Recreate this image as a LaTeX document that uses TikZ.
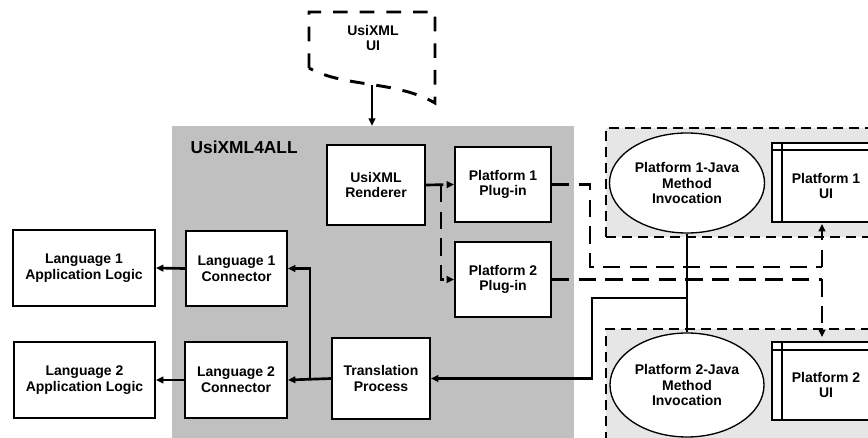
\documentclass[tikz,border=0pt]{standalone}
\usepackage{fontspec}
\setmainfont{Liberation Sans}
\usetikzlibrary{arrows.meta,shapes.geometric}
\definecolor{coregray}{HTML}{C0C0C0}
\definecolor{platgray}{HTML}{E6E6E6}
\tikzset{
  lbl/.style={font=\fontsize{10.5}{11.8}\selectfont\bfseries, align=center},
  blk/.style={lbl, draw, fill=white, line width=1.5pt, inner sep=0pt},
  oval/.style={lbl, draw, fill=white, ellipse, line width=1pt, inner sep=0pt},
  flow/.style={line width=2pt, -{Triangle[length=5.5pt,width=5pt]}},
  link/.style={line width=2pt},
  dflow/.style={line width=2pt, dash pattern=on 13pt off 7pt, -{Triangle[length=5.5pt,width=5pt]}},
  dlink/.style={line width=2pt, dash pattern=on 13pt off 7pt},
  region/.style={draw, fill=platgray, line width=1.2pt, dash pattern=on 7.5pt off 4.5pt},
}
\begin{document}
\begin{tikzpicture}[x=0.75pt,y=-0.75pt]
\useasboundingbox (0,0) rectangle (868,438);
\clip (0,0) rectangle (868,438);

% UsiXML4ALL framework area
\node[fill=coregray, minimum width=402*0.75pt, minimum height=319*0.75pt, inner sep=0pt] (core) at (373,285.5) {};
\node[anchor=west, font=\fontsize{13}{15}\selectfont\bfseries] (corelbl) at (186,147) {UsiXML4ALL};

% platform areas
\node[region, minimum width=280*0.75pt, minimum height=109*0.75pt, inner sep=0pt] (reg1) at (746,182.5) {};
\node[region, minimum width=280*0.75pt, minimum height=121*0.75pt, inner sep=0pt] (reg2) at (746,389.5) {};

% UsiXML UI document
\draw[line width=2.2pt, dash pattern=on 11pt off 9pt]
  (309,68) -- (309,12) -- (435,12) -- (435,103) .. controls (395,80) and (345,88) .. (309,68);
\node[lbl] (doc) at (373,38) {UsiXML\\UI};
\coordinate (docb) at (372,85);

% blocks
\node[blk, minimum width=98*0.75pt, minimum height=80*0.75pt] (rend) at (376,185) {UsiXML\\Renderer};
\node[blk, minimum width=96*0.75pt, minimum height=75*0.75pt] (p1plug) at (503,184.5) {Platform 1\\Plug-in};
\node[blk, minimum width=96*0.75pt, minimum height=75*0.75pt] (p2plug) at (503,279.5) {Platform 2\\Plug-in};
\node[blk, minimum width=101*0.75pt, minimum height=75*0.75pt] (l1con) at (236.5,268.5) {Language 1\\Connector};
\node[blk, minimum width=102*0.75pt, minimum height=76*0.75pt] (l2con) at (236,380) {Language 2\\Connector};
\node[blk, minimum width=98*0.75pt, minimum height=81*0.75pt] (trans) at (381,378.5) {Translation\\Process};
\node[blk, minimum width=142*0.75pt, minimum height=76*0.75pt] (l1app) at (84,268) {Language 1\\Application Logic};
\node[blk, minimum width=141*0.75pt, minimum height=76*0.75pt] (l2app) at (84.5,380) {Language 2\\Application Logic};

% platform method invocation
\node[oval, minimum width=155*0.75pt, minimum height=100*0.75pt] (ell1) at (687,183) {Platform 1-Java\\Method\\Invocation};
\node[oval, minimum width=154*0.75pt, minimum height=104*0.75pt] (ell2) at (687,385) {Platform 2-Java\\Method\\Invocation};

% platform user interfaces (window frames)
\draw[line width=1.5pt, fill=white] (890,143) -- (772,143) -- (772,222) -- (890,222);
\draw[line width=1pt] (772,150) -- (890,150) (782,143) -- (782,222);
\node[lbl] (ui1) at (826,186) {Platform 1\\UI};
\draw[line width=1.5pt, fill=white] (890,342) -- (772,342) -- (772,420) -- (890,420);
\draw[line width=1pt] (772,350) -- (890,350) (782,342) -- (782,420);
\node[lbl] (ui2) at (826,385) {Platform 2\\UI};

% connectors
\draw[flow] (docb) -- (docb |- core.north);

\draw[dflow] (rend.east) -- (p1plug.west);
\coordinate (rsplit) at (441,185);
\draw[dflow] (rsplit) |- (p2plug.west);

\coordinate (a1) at (590,184.5);
\coordinate (a2) at (590,267);
\coordinate (a3) at (822,267);
\coordinate (ui1b) at (822,224);
\draw[dlink] (p1plug.east) -- (a1) -- (a2) -- (a3);
\draw[dflow] (a3) -- (ui1b);

\coordinate (b1) at (822,279.5);
\coordinate (ui2t) at (822,337);
\draw[dlink] (p2plug.east) -- (b1);
\draw[dflow] (b1) -- (ui2t);

\draw[link] (ell1.south) -- (ell2.north);
\coordinate (s0) at (687,298);
\coordinate (s1) at (592,298);
\coordinate (s2) at (592,378.5);
\draw[flow] (s0) -- (s1) -- (s2) -- (trans.east);

\draw[flow] (trans.west) -- (l2con.east);
\coordinate (j0) at (310,378.5);
\draw[flow] (j0) |- (l1con.east);
\draw[flow] (l1con.west) -- (l1app.east);
\draw[flow] (l2con.west) -- (l2app.east);
\end{tikzpicture}
\end{document}
